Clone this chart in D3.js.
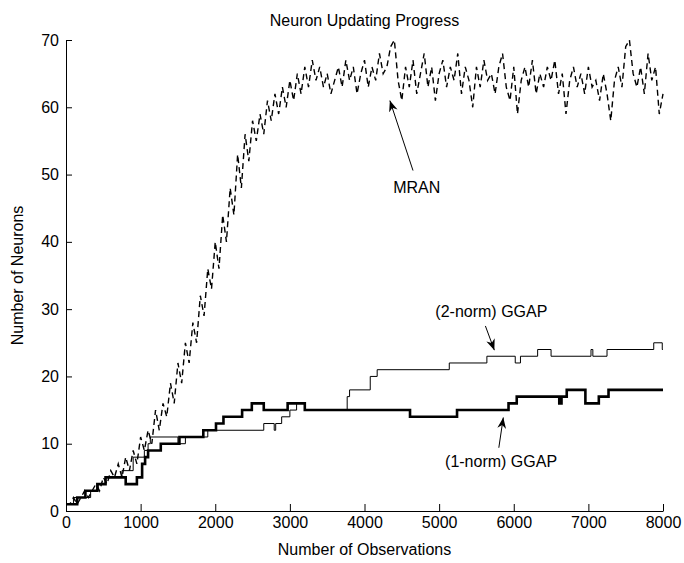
<!DOCTYPE html>
<html>
<head>
<meta charset="utf-8">
<script src="https://cdn.jsdelivr.net/npm/d3@7/dist/d3.min.js"></script>
<style>
  body { margin: 0; background: #fff; }
  text { font-family: "Liberation Sans", Arial, sans-serif; fill: #000; }
</style>
</head>
<body>
<div id="chart"></div>
<script>
// MRAN neuron count, one reading every 50 observations (0..8000)
var mranStep = 50
var mranValues = [
  1, 1, 2, 1, 2, 3, 2, 3, 4, 3, 5, 4, 6, 5, 7, 5, 8, 6, 9, 7,
  11, 9, 12, 10, 15, 12, 16, 14, 19, 16, 22, 19, 25, 22, 28, 25, 32, 29, 36, 33,
  40, 36, 44, 40, 48, 44, 53, 48, 56, 52, 58, 55, 59, 56, 61, 58, 62, 59, 63, 60,
  64, 61, 65, 62, 66, 63, 67, 64, 66, 63, 65, 62, 64, 66, 63, 67, 64, 66, 62, 65,
  67, 63, 66, 64, 68, 65, 66, 69, 70, 64, 61, 66, 63, 67, 62, 65, 68, 63, 66, 61,
  65, 67, 63, 66, 64, 68, 62, 66, 64, 60, 66, 63, 67, 64, 65, 62, 66, 68, 63, 61,
  66, 59, 64, 66, 63, 67, 62, 65, 63, 66, 64, 67, 62, 65, 59, 64, 66, 63, 65, 62,
  66, 63, 64, 61, 65, 62, 58, 64, 66, 63, 69, 70, 65, 63, 66, 62, 68, 64, 66, 59,
  62
]

// GGAP step changes: [observation, neurons]
var ggap2Steps = [
  [0, 1], [100, 2], [330, 3], [430, 4], [530, 5], [750, 6], [900, 8], [1050, 9],
  [1100, 10], [1130, 11], [1500, 10], [1600, 11], [1900, 12], [2650, 13], [2790, 12],
  [2810, 13], [2890, 14], [3000, 15], [3090, 16], [3200, 15], [3768, 17], [3800, 18],
  [4077, 20], [4170, 21], [5136, 22], [5640, 23], [6020, 22], [6090, 23], [6320, 24],
  [6500, 23], [7035, 24], [7060, 23], [7250, 24], [7876, 25], [7990, 24], [8000, 24]
]
var ggap1Steps = [
  [0, 1], [150, 2], [260, 3], [420, 4], [530, 5], [800, 4], [950, 5], [1020, 7],
  [1060, 8], [1100, 9], [1270, 10], [1520, 11], [1840, 12], [2010, 13], [2110, 14],
  [2360, 15], [2490, 16], [2650, 15], [2970, 16], [3200, 15], [4610, 14], [5240, 15],
  [5930, 16], [6040, 17], [6610, 16], [6640, 17], [6710, 18], [6960, 16], [7140, 17],
  [7270, 18], [8000, 18]
]

var xTicks = [0, 1000, 2000, 3000, 4000, 5000, 6000, 7000, 8000]
var yTicks = [0, 10, 20, 30, 40, 50, 60, 70]

// annotations: label, text anchor point, arrow tail, arrow tip (data units)
var notes = [
  {label: 'MRAN', text: [4700, 47.2], tail: [4650, 50.6], tip: [4340, 61.0]},
  {label: '(2-norm) GGAP', text: [5700, 28.8], tail: [5620, 27.5], tip: [5740, 23.9]},
  {label: '(1-norm) GGAP', text: [5830, 6.6], tail: [5800, 9.4], tip: [5860, 13.9]}
]

var width = 684, height = 563
var margins = {top: 40, right: 21, bottom: 52, left: 66}

var svg = d3.select('#chart').append('svg')
    .attr('width', width)
    .attr('height', height)

var x = d3.scaleLinear().domain([0, 8000]).range([margins.left, width - margins.right])
var y = d3.scaleLinear().domain([0, 70]).range([height - margins.bottom, margins.top])

var mranData = mranValues.map(function(v, i) { return [i * mranStep, v] })

var line = d3.line()
    .x(function(d) { return x(d[0]) })
    .y(function(d) { return y(d[1]) })
var stepLine = d3.line()
    .x(function(d) { return x(d[0]) })
    .y(function(d) { return y(d[1]) })
    .curve(d3.curveStepAfter)

svg.append('path')
    .datum(mranData)
    .attr('d', line)
    .attr('fill', 'none')
    .attr('stroke', '#000')
    .attr('stroke-width', 1.4)
    .attr('stroke-dasharray', '6,4')

svg.append('path')
    .datum(ggap2Steps)
    .attr('d', stepLine)
    .attr('fill', 'none')
    .attr('stroke', '#000')
    .attr('stroke-width', 1)

svg.append('path')
    .datum(ggap1Steps)
    .attr('d', stepLine)
    .attr('fill', 'none')
    .attr('stroke', '#000')
    .attr('stroke-width', 2.6)

// axes, MATLAB style: ticks inside
svg.append('g')
    .attr('transform', 'translate(0,' + y(0) + ')')
    .call(d3.axisBottom(x).tickValues(xTicks).tickFormat(d3.format('d'))
        .tickSizeInner(-7).tickSizeOuter(0).tickPadding(6))
svg.append('g')
    .attr('transform', 'translate(' + x(0) + ',0)')
    .call(d3.axisLeft(y).tickValues(yTicks).tickFormat(d3.format('d'))
        .tickSizeInner(-6).tickSizeOuter(0).tickPadding(7))

svg.selectAll('.domain, .tick line').attr('stroke', '#000').attr('stroke-width', 1)
svg.selectAll('.tick text').attr('font-size', 16).attr('font-family', '"Liberation Sans", Arial, sans-serif')

// arrows
var defs = svg.append('defs')
defs.append('marker')
    .attr('id', 'head')
    .attr('viewBox', '0 0 10 10')
    .attr('refX', 10).attr('refY', 5)
    .attr('markerWidth', 11).attr('markerHeight', 11)
    .attr('markerUnits', 'userSpaceOnUse')
    .attr('orient', 'auto')
    .append('path')
    .attr('d', 'M0,1 L10,5 L0,9 L3,5 Z')
    .attr('fill', '#000')

notes.forEach(function(n) {
    svg.append('line')
        .attr('x1', x(n.tail[0])).attr('y1', y(n.tail[1]))
        .attr('x2', x(n.tip[0])).attr('y2', y(n.tip[1]))
        .attr('stroke', '#000')
        .attr('stroke-width', 1)
        .attr('marker-end', 'url(#head)')
    svg.append('text')
        .attr('x', x(n.text[0])).attr('y', y(n.text[1]))
        .attr('text-anchor', 'middle')
        .attr('font-size', 16)
        .text(n.label)
})

svg.append('text')
    .attr('x', (x(0) + x(8000)) / 2).attr('y', 26)
    .attr('text-anchor', 'middle')
    .attr('font-size', 16)
    .text('Neuron Updating Progress')

svg.append('text')
    .attr('x', (x(0) + x(8000)) / 2).attr('y', 555)
    .attr('text-anchor', 'middle')
    .attr('font-size', 16)
    .text('Number of Observations')

svg.append('text')
    .attr('transform', 'translate(23,' + (y(0) + y(70)) / 2 + ') rotate(-90)')
    .attr('text-anchor', 'middle')
    .attr('font-size', 16)
    .text('Number of Neurons')
</script>
</body>
</html>
